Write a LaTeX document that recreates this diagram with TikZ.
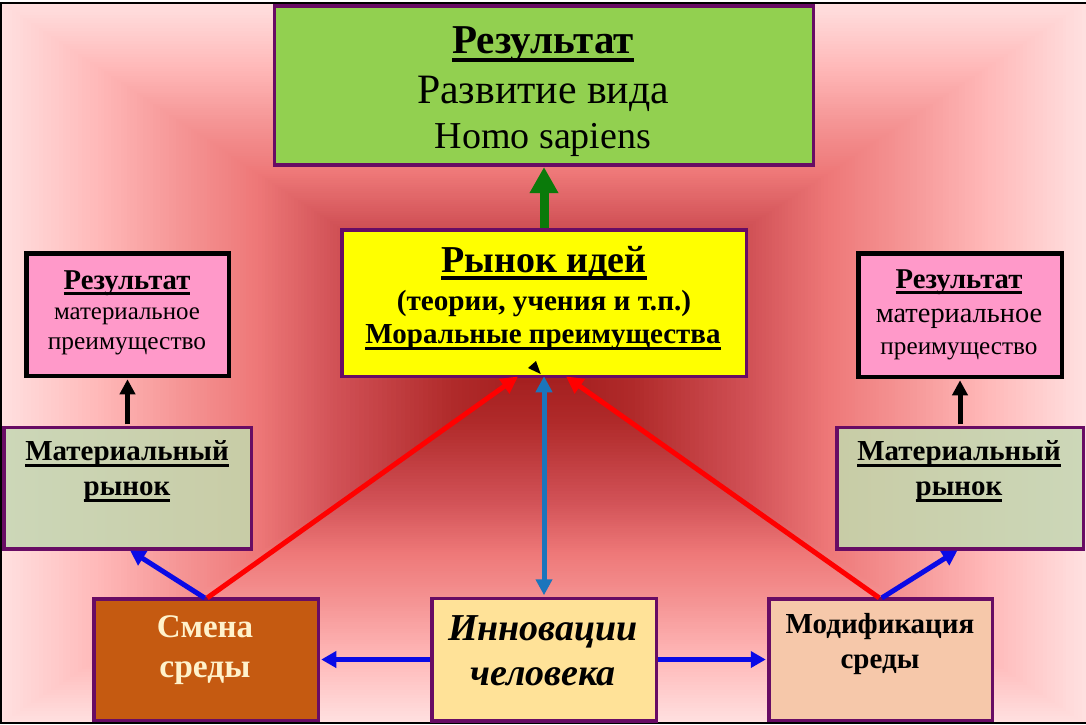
\documentclass[tikz,border=0pt]{standalone}
\usepackage{fontspec}
\setmainfont{Liberation Serif}
\usetikzlibrary{arrows.meta}
\newcommand{\sz}[1]{\fontsize{#1}{#1}\selectfont}
\newcommand{\ulx}[3]{\setbox0=\hbox{#3}\rlap{\raisebox{-#1pt}{\rule{\wd0}{#2pt}}}\box0 }
\definecolor{frm}{HTML}{680C64}
\definecolor{gA}{HTML}{FFE0E0}
\definecolor{gB}{HTML}{FFB8B8}
\definecolor{gC}{HTML}{F59595}
\definecolor{gD}{HTML}{EE7878}
\definecolor{gE}{HTML}{D05055}
\definecolor{gF}{HTML}{B02A2A}
\definecolor{gG}{HTML}{A01C1C}
\definecolor{blu}{HTML}{0A0AE6}
\definecolor{stl}{HTML}{1B75BC}
\definecolor{grn}{HTML}{0A7A0A}
\definecolor{resfill}{HTML}{FF99C9}
\definecolor{FillTop}{HTML}{92D050}
\definecolor{FillId}{HTML}{FFFF00}
\definecolor{MatA}{HTML}{CCD7B8}
\definecolor{MatB}{HTML}{C8CCA6}
\definecolor{FillSm}{HTML}{C55A11}
\definecolor{FillIn}{HTML}{FFE298}
\definecolor{FillMo}{HTML}{F6C8AA}
\definecolor{TxtSm}{HTML}{FFF2CC}
\tikzset{
  box/.style={draw=frm,line width=3.5pt,inner sep=0pt,outer sep=0pt},
  blackbox/.style={draw=black,line width=4.5pt,inner sep=0pt,outer sep=0pt,fill=resfill},
  lbl/.style={anchor=base,inner sep=0pt,outer sep=0pt,text=black},
  arrgreen/.style={draw=grn,line width=9pt,-{Triangle[width=27pt,length=26pt]},shorten >=2pt,shorten <=2pt},
  arrblack/.style={draw=black,line width=5pt,-{Triangle[width=15pt,length=15pt]},shorten >=3.5pt,shorten <=3pt},
  arrblue/.style={draw=blu,line width=5pt,-{Triangle[width=16pt,length=15pt]},shorten >=3pt,shorten <=1.5pt},
  arrred/.style={draw=red,line width=5pt,-{Triangle[width=17pt,length=17pt]},shorten <=1.5pt},
  arrsteel/.style={draw=stl,line width=5pt,{Triangle[width=16pt,length=16pt]}-{Triangle[width=16pt,length=16pt]},shorten <=3pt},
}
\begin{document}
\begin{tikzpicture}[x=1pt,y=-1pt]
\useasboundingbox (0,0) rectangle (1086,724);
\fill[white] (0,0) rectangle (1086,724);
% background: rectangular gradient
\foreach \ta/\tb/\ca/\cb in {1/0.82/gA/gB,0.82/0.67/gB/gC,0.67/0.53/gC/gD,0.53/0.38/gD/gE,0.38/0.17/gE/gF,0.17/0/gF/gG}{
  \foreach \k in {0,...,24}{
    \pgfmathsetmacro{\t}{\ta+(\tb-\ta)*\k/25}
    \pgfmathsetmacro{\p}{100-4*\k}
    \colorlet{bgc}{\ca!\p!\cb}
    \fill[bgc] ({543-543*\t},{363-361*\t}) rectangle ({543+543*\t},{363+361*\t});
  }
}
% frame
\fill[black] (0,2) rectangle (1086,4);
\fill[black] (0,2) rectangle (2,724);
\fill[black] (0,722) rectangle (1086,724);
% boxes
\node[box,fill=FillTop,minimum width=539pt,minimum height=159pt] (top) at (544,85.5) {};
\node[box,fill=FillId,minimum width=404.5pt,minimum height=146.5pt] (ideas) at (544,303) {};
\node[blackbox,minimum width=202.5pt,minimum height=122.5pt] (resL) at (127.5,314.5) {};
\node[blackbox,minimum width=203.5pt,minimum height=123.5pt] (resR) at (960,315) {};
\node[box,left color=MatA,right color=MatB,minimum width=247.5pt,minimum height=121.5pt] (matL) at (127.5,488) {};
\node[box,left color=MatB,right color=MatA,minimum width=246.5pt,minimum height=121.5pt] (matR) at (960,488) {};
\node[box,fill=FillSm,minimum width=224.5pt,minimum height=121.5pt] (smena) at (206,659.5) {};
\node[box,fill=FillIn,minimum width=224.5pt,minimum height=122.5pt] (inno) at (544,659.5) {};
\node[box,fill=FillMo,minimum width=223.5pt,minimum height=121.5pt] (modif) at (880.5,659.5) {};
% free ends
\coordinate (ideasL) at (518,376.5);
\coordinate (ideasR) at (566,376.5);
% connectors
\draw[arrgreen] (ideas.north) -- (top.south);
\draw[arrred] (smena.north) -- (ideasL);
\draw[arrred] (modif.north) -- (ideasR);
\draw[arrsteel] (inno.north) -- (ideas.south);
\draw[arrblack] (matL.north) -- (resL.south);
\draw[arrblack] (matR.north) -- (resR.south);
\draw[arrblue] (smena.north) -- (matL.south);
\draw[arrblue] (modif.north) -- (matR.south);
\draw[arrblue] (inno.west) -- (smena.east);
\draw[arrblue] (inno.east) -- (modif.west);
\fill[black] (536,361) -- (528,368) -- (540.7,374) -- cycle;
% texts
\node[lbl] (t1) at (543,53) {\sz{41}\bfseries\ulx{9}{3.6}{Результат}};
\node[lbl] (t2) at (543,103) {\sz{41.8}Развитие вида};
\node[lbl] (t3) at (543,148) {\sz{38}Homo sapiens};
\node[lbl] (i1) at (544,272) {\sz{38}\bfseries\ulx{7.7}{3.4}{Рынок идей}};
\node[lbl] (i2) at (544,310) {\sz{29.2}\bfseries (теории, учения и т.п.)};
\node[lbl] (i3) at (543,343) {\sz{29}\bfseries\ulx{7}{3}{Моральные преимущества}};
\node[lbl] (rl1) at (127,289) {\sz{28.7}\bfseries\ulx{5.5}{2.6}{Результат}};
\node[lbl] (rl2) at (127,319) {\sz{24.9}материальное};
\node[lbl] (rl3) at (127,349) {\sz{25.4}преимущество};
\node[lbl] (rr1) at (959,288) {\sz{28.7}\bfseries\ulx{5.5}{2.6}{Результат}};
\node[lbl] (rr2) at (959,322) {\sz{28.4}материальное};
\node[lbl] (rr3) at (959,354) {\sz{25.2}преимущество};
\node[lbl] (ml1) at (127,460) {\sz{29}\bfseries\ulx{6.7}{2.6}{Материальный}};
\node[lbl] (ml2) at (127,495) {\sz{29}\bfseries\ulx{6.7}{2.6}{рынок}};
\node[lbl] (mr1) at (959,460) {\sz{29}\bfseries\ulx{6.7}{2.6}{Материальный}};
\node[lbl] (mr2) at (959,495) {\sz{29}\bfseries\ulx{6.7}{2.6}{рынок}};
\node[lbl,text=TxtSm] (s1) at (205,637) {\sz{33}\bfseries Смена};
\node[lbl,text=TxtSm] (s2) at (205,677) {\sz{33.5}\bfseries среды};
\node[lbl] (n1) at (543,640) {\sz{38}\bfseries\itshape Инновации};
\node[lbl] (n2) at (543,685) {\sz{38}\bfseries\itshape человека};
\node[lbl] (o1) at (880,633) {\sz{29}\bfseries Модификация};
\node[lbl] (o2) at (880,668) {\sz{29}\bfseries среды};
\end{tikzpicture}
\end{document}
